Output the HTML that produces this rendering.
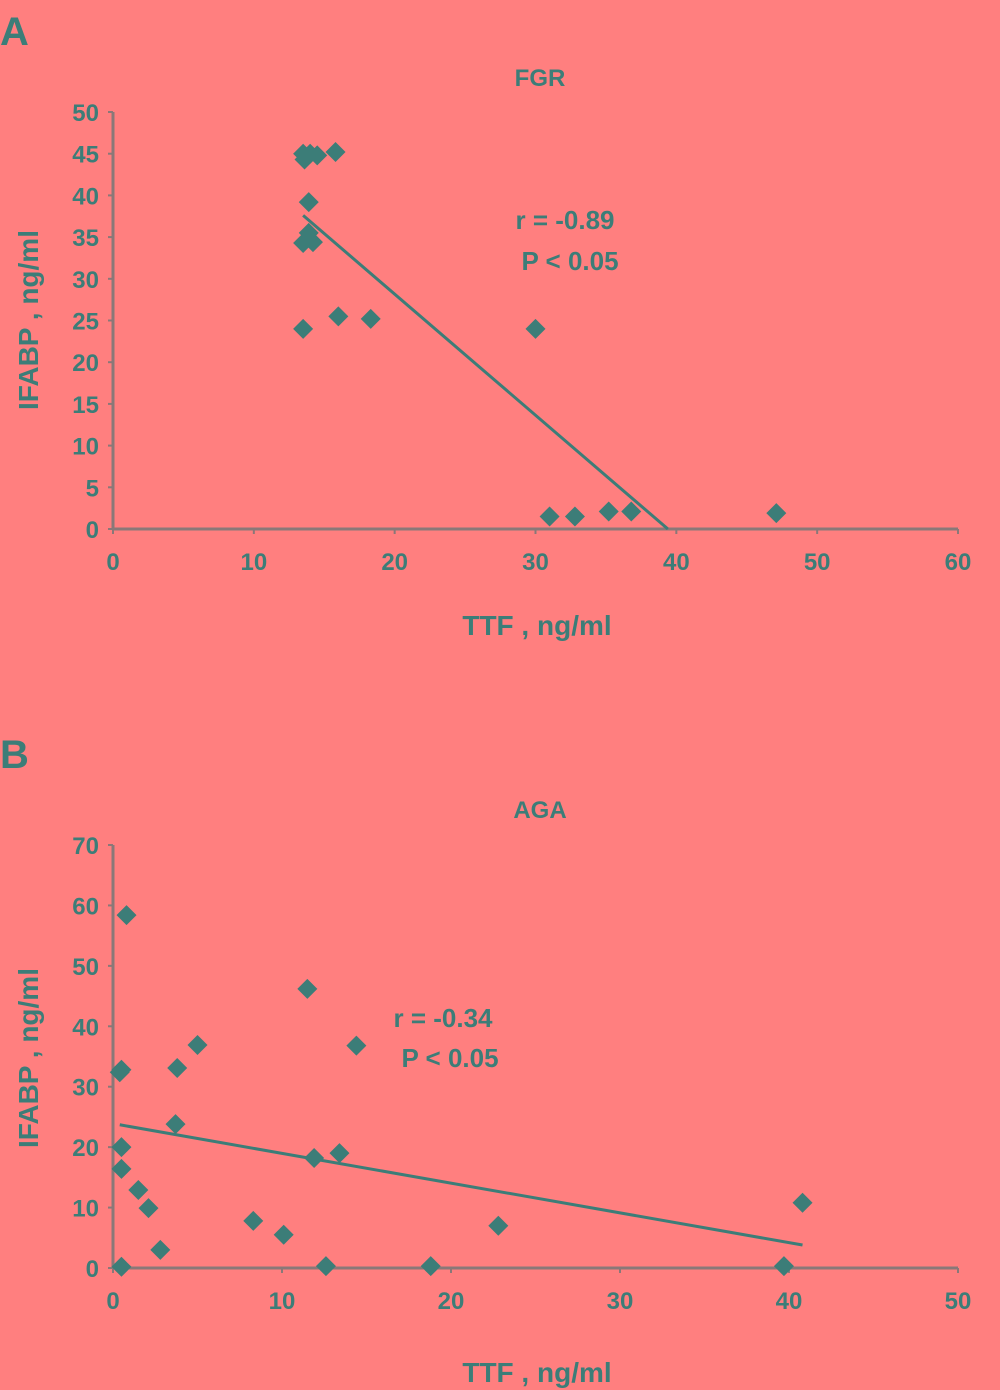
<!DOCTYPE html>
<html><head><meta charset="utf-8">
<style>
html,body{margin:0;padding:0;background:#FF7F7F;}
svg{display:block;}
text{font-family:"Liberation Sans",sans-serif;fill:#3C7D78;font-weight:bold;}
</style></head>
<body>
<svg id="chart" width="1000" height="1390" viewBox="0 0 1000 1390">
<rect width="1000" height="1390" fill="#FF7F7F"/>
<text x="0" y="45" font-size="40" font-weight="bold" font-family="Liberation Serif">A</text>
<text x="0" y="768" font-size="40" font-weight="bold" font-family="Liberation Serif">B</text>
<text x="540" y="86" font-size="24" text-anchor="middle">FGR</text>
<text x="540" y="818" font-size="24" text-anchor="middle">AGA</text>
<text x="565" y="229" font-size="26" text-anchor="middle">r = -0.89</text>
<text x="570" y="270" font-size="26" text-anchor="middle">P &lt; 0.05</text>
<text x="443" y="1027" font-size="26" text-anchor="middle">r = -0.34</text>
<text x="450" y="1067" font-size="26" text-anchor="middle">P &lt; 0.05</text>
<text x="537" y="635" font-size="28" text-anchor="middle">TTF , ng/ml</text>
<text x="537" y="1382" font-size="28" text-anchor="middle">TTF , ng/ml</text>
<text transform="translate(38,320) rotate(-90)" font-size="28" text-anchor="middle">IFABP , ng/ml</text>
<text transform="translate(38,1058) rotate(-90)" font-size="28" text-anchor="middle">IFABP , ng/ml</text>
<g id="ga"></g>
<g id="gb"></g>
</svg>
<script>
const aX = [13.5,16.0,18.3,30.0,13.5,14.0,14.5,13.6,15.8,13.9,13.9,13.5,14.2,31.0,32.8,35.2,36.8,47.1];
const aY = [24.0,25.5,25.2,24.0,45.0,45.0,44.8,44.3,45.2,39.2,35.5,34.3,34.4,1.5,1.5,2.1,2.1,1.9];
const aFit = [[13.5,37.6],[39.4,0]];
const aXTicks = [0,10,20,30,40,50,60];
const aYTicks = [0,5,10,15,20,25,30,35,40,45,50];
const bX = [0.8,0.5,0.4,3.8,5.0,3.7,0.5,0.5,1.5,2.1,2.8,0.5,8.3,10.1,11.5,11.9,13.4,12.6,14.4,18.8,22.8,39.7,40.8];
const bY = [58.4,32.8,32.4,33.1,36.9,23.8,20.0,16.4,12.9,9.9,3.0,0.2,7.8,5.5,46.2,18.2,19.0,0.3,36.8,0.3,7.0,0.3,10.8];
const bFit = [[0.4,23.7],[40.8,3.8]];
const bXTicks = [0,10,20,30,40,50];
const bYTicks = [0,10,20,30,40,50,60,70];
const NS='http://www.w3.org/2000/svg';
const TEAL='#3C7D78', AX='#8A7878';
function mk(tag,attrs,parent){const e=document.createElementNS(NS,tag);for(const k in attrs)e.setAttribute(k,attrs[k]);parent.appendChild(e);return e;}
function draw(g,xs,ys,fit,xt,yt,xMax,yMax,px0,px1,py0,py1,pre){
  const sx=v=>px0+(v/xMax)*(px1-px0);
  const sy=v=>py0-(v/yMax)*(py0-py1);
  const xa=mk('line',{x1:px0,y1:py0,x2:px1,y2:py0,stroke:AX,'stroke-width':3},g);
  
  
  const ya=mk('line',{x1:px0,y1:py0,x2:px0,y2:py1,stroke:AX,'stroke-width':3},g);
  
  
  xt.forEach(v=>{
    mk('line',{x1:sx(v),y1:py0,x2:sx(v),y2:py0+5,stroke:AX,'stroke-width':2},g);
    const t=mk('text',{x:sx(v),y:py0+41,'font-size':24,'text-anchor':'middle'},g);
    t.textContent=v;
    
    
  });
  yt.forEach(v=>{
    mk('line',{x1:px0-5,y1:sy(v),x2:px0,y2:sy(v),stroke:AX,'stroke-width':2},g);
    const t=mk('text',{x:px0-14,y:sy(v)+9,'font-size':24,'text-anchor':'end'},g);
    t.textContent=v;
    
    
  });
  const l=mk('line',{x1:sx(fit[0][0]),y1:sy(fit[0][1]),x2:sx(fit[1][0]),y2:sy(fit[1][1]),stroke:TEAL,'stroke-width':3},g);
  
  
  xs.forEach((x,i)=>{
    const cx=sx(x),cy=sy(ys[i]),r=10;
    const p=mk('polygon',{points:`${cx},${cy-r} ${cx+r},${cy} ${cx},${cy+r} ${cx-r},${cy}`,fill:TEAL},g);
    
    
  });
}
draw(document.getElementById('ga'),aX,aY,aFit,aXTicks,aYTicks,60,50,113,958,529,112,'chart-a');
draw(document.getElementById('gb'),bX,bY,bFit,bXTicks,bYTicks,50,70,113,958,1268,845,'chart-b');
</script>
</body></html>
